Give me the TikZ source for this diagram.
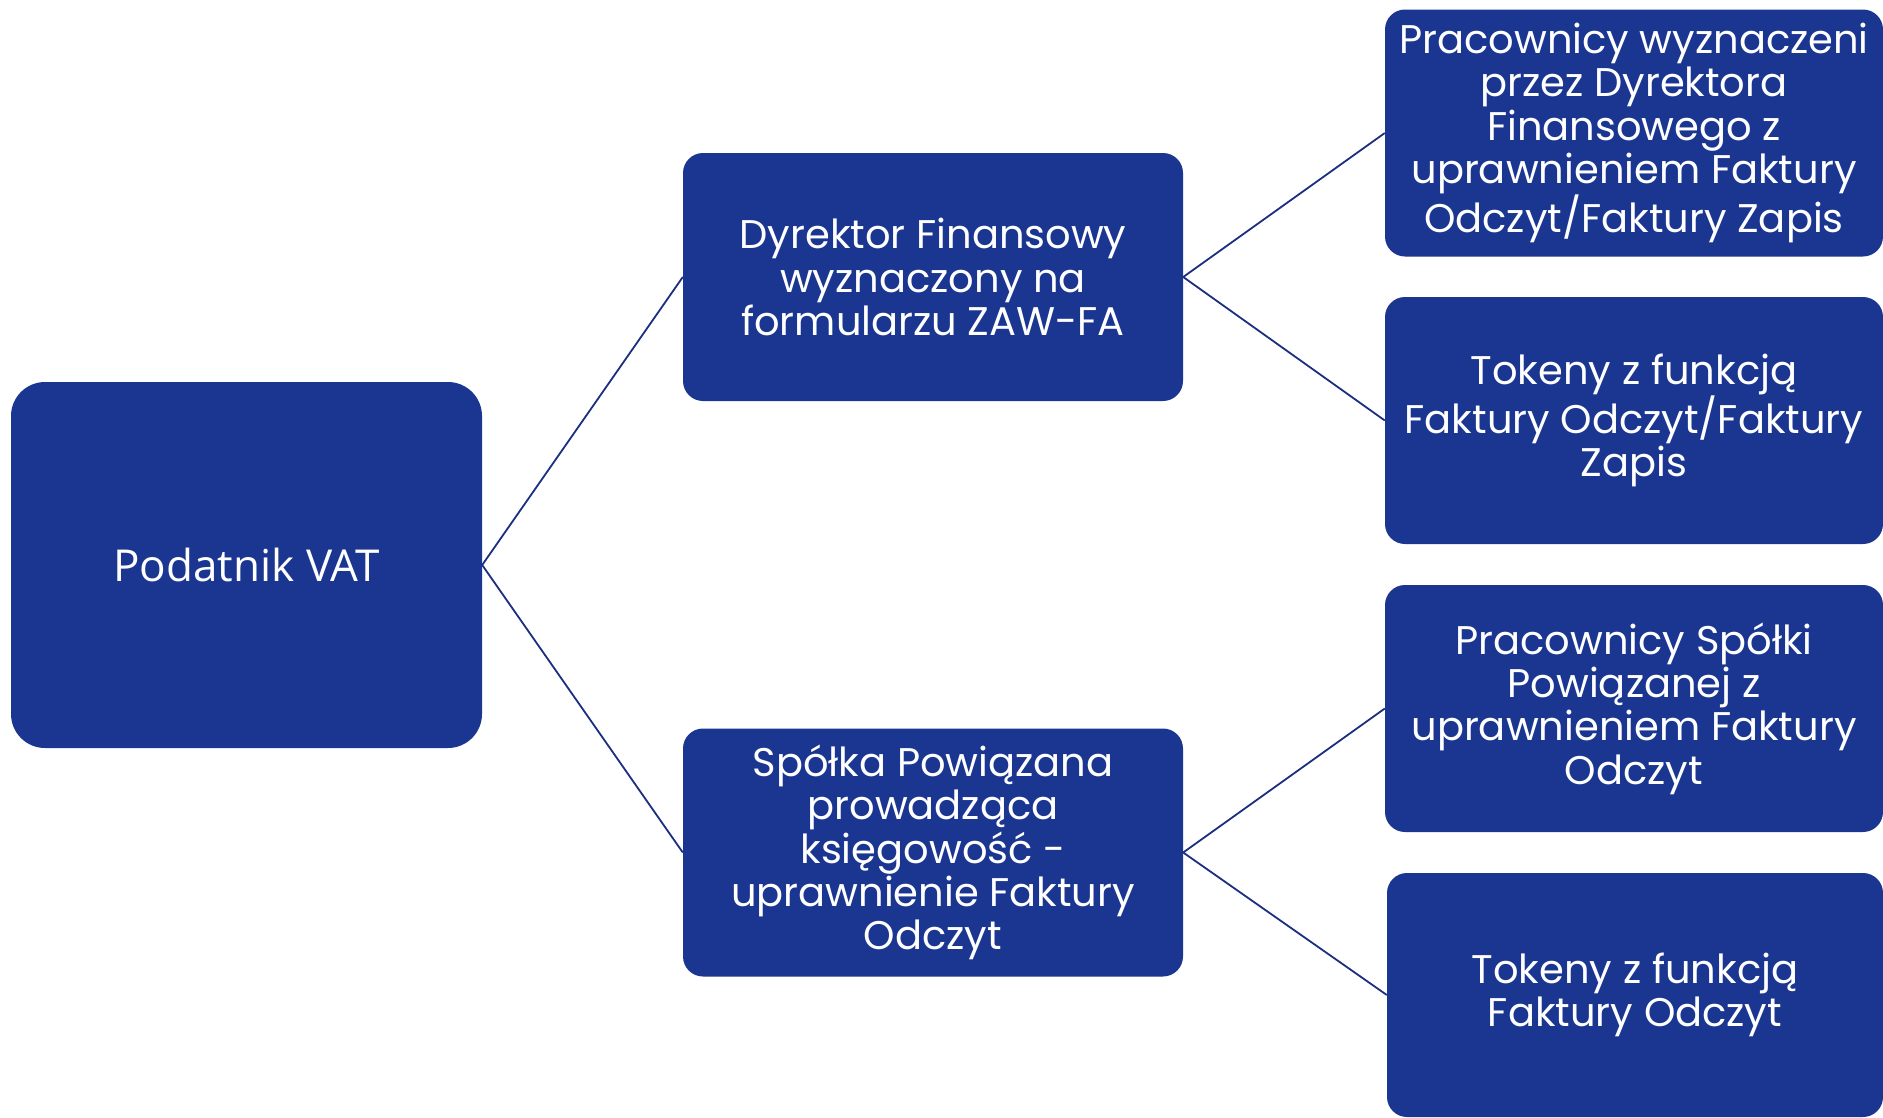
\documentclass[tikz,border=0pt]{standalone}
\usepackage{fontspec}
\setmainfont{Poppins}
\newfontfamily\podfont{Open Sans}
\definecolor{boxblue}{RGB}{26,54,145}
\definecolor{lineblue}{RGB}{27,46,128}
\begin{document}
\begin{tikzpicture}[x=1pt,y=-1pt,
  box/.style={fill=boxblue, text=white, rounded corners=20pt, inner sep=0pt, align=center,
    minimum width=498pt, minimum height=247pt,
    font=\fontsize{40}{43.4}\selectfont},
  midbox/.style={box, minimum width=500pt, minimum height=248pt},
  conn/.style={draw=lineblue, line width=1.8pt}]
\useasboundingbox (0,0) rectangle (1883,1117);

\node[box, rounded corners=34pt, minimum width=471pt, minimum height=366pt,
      font=\podfont\fontsize{44}{48}\selectfont] (pod) at (246.5,565) {Podatnik VAT};

\node[midbox] (dyr) at (933,277) {Dyrektor Finansowy\\wyznaczony na\\formularzu ZAW-FA};
\node[midbox] (spo) at (933,852.5) {Spółka Powiązana\\prowadząca\\księgowość -\\uprawnienie Faktury\\Odczyt};

\node[box] (r1) at (1634,133) {Pracownicy wyznaczeni\\przez Dyrektora\\Finansowego z\\uprawnieniem Faktury\\Odczyt/Faktury Zapis};
\node[box] (r2) at (1634,420.5) {Tokeny z funkcją\\Faktury Odczyt/Faktury\\Zapis};
\node[box] (r3) at (1634,708.5) {Pracownicy Spółki\\Powiązanej z\\uprawnieniem Faktury\\Odczyt};
\node[box, minimum width=496pt, minimum height=244pt] (r4) at (1635,995) {Tokeny z funkcją\\Faktury Odczyt};

\draw[conn] (dyr.west) -- (pod.east) -- (spo.west);
\draw[conn] (r1.west) -- (dyr.east) -- (r2.west);
\draw[conn] (r3.west) -- (spo.east) -- (r4.west);
\end{tikzpicture}
\end{document}
